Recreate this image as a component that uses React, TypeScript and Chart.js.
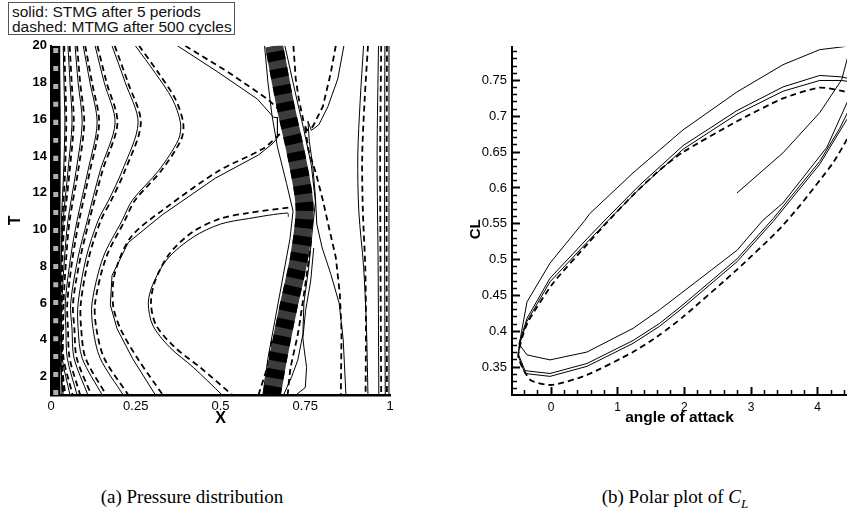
import React, { useEffect, useRef } from 'react';
import { Chart, registerables } from 'chart.js';

Chart.register(...registerables);

type P = [number, number];

// ---------------- (a) Pressure distribution : contour lines in the (X, T) plane ----------------
const xTicksA = [0, 0.25, 0.5, 0.75, 1];
const tTicksA = [2, 4, 6, 8, 10, 12, 14, 16, 18, 20];

// dense contour bundles (wall and shock)
const wallPath: P[] = [[0.014, 1], [0.014, 20]];
const shockPath: P[] = [[0.651, 1], [0.67, 3], [0.7, 5.75], [0.732, 8.5], [0.748, 11.2], [0.724, 14], [0.692, 16.7], [0.658, 20]];

// solid: STMG after 5 periods
const sA: P[] = [[0.024, 20], [0.027, 15.8], [0.026, 10.5], [0.024, 6], [0.026, 1]];
const sB: P[] = [[0.036, 20], [0.039, 17.5], [0.041, 15.8], [0.037, 13], [0.031, 10.5], [0.029, 6], [0.03, 3], [0.032, 1]];
const sC: P[] = [[0.05, 20], [0.056, 18], [0.062, 15.8], [0.05, 13.2], [0.036, 10.5], [0.03, 8.5], [0.027, 6], [0.027, 3], [0.036, 1]];
const sD: P[] = [[0.071, 20], [0.08, 18], [0.092, 15.8], [0.074, 13.2], [0.05, 10.5], [0.04, 8.5], [0.032, 6], [0.031, 4.6], [0.033, 3], [0.056, 1]];
const sE: P[] = [[0.095, 20], [0.115, 18], [0.136, 15.8], [0.109, 13.2], [0.077, 10.5], [0.058, 8.5], [0.042, 6], [0.044, 4.6], [0.048, 3], [0.077, 1]];
const sF: P[] = [[0.13, 20], [0.157, 18], [0.189, 15.8], [0.145, 13.2], [0.107, 10.5], [0.08, 8.5], [0.058, 6], [0.062, 4.6], [0.068, 3], [0.109, 1]];
const sG: P[] = [[0.18, 20], [0.219, 18], [0.257, 15.8], [0.21, 13.2], [0.17, 11.6], [0.139, 10.5], [0.104, 8.5], [0.08, 6], [0.08, 4.6], [0.092, 3], [0.151, 1]];
const sH: P[] = [[0.249, 20], [0.308, 18.5], [0.358, 17.1], [0.382, 15.8], [0.376, 14.9], [0.317, 13.2], [0.24, 11.6], [0.21, 10.5], [0.154, 8.5], [0.121, 6], [0.124, 4.6], [0.145, 3], [0.213, 1]];
const sI: P[] = [[0.373, 20], [0.49, 18.6], [0.609, 17.1], [0.657, 16.1], [0.668, 16.1], [0.668, 15.0], [0.655, 14.7], [0.612, 14.06], [0.485, 12.8], [0.328, 10.8], [0.228, 9.3], [0.18, 7.5], [0.175, 5.9], [0.195, 4.6], [0.24, 3.0], [0.308, 1.0]];
const sJ: P[] = [[0.7, 10.7], [0.698, 10.9], [0.583, 10.6], [0.5, 10.3], [0.42, 9.6], [0.343, 8.4], [0.3, 7.0], [0.287, 6.0], [0.3, 4.8], [0.35, 3.6], [0.42, 2.5], [0.505, 1.0]];
const sS1: P[] = [[0.864, 20], [0.846, 18.2], [0.817, 16.7], [0.79, 15.7], [0.768, 15.4], [0.758, 15.9], [0.762, 14.8], [0.772, 13.5], [0.78, 11.8], [0.784, 10.3], [0.8, 9.0], [0.825, 7.6], [0.85, 6.0], [0.862, 4.0], [0.87, 1.0]];
const sBandL: P[] = [[0.63, 20], [0.64, 18], [0.652, 16.2], [0.668, 14.5], [0.695, 12.5], [0.714, 11.0], [0.705, 9.5], [0.685, 7.5], [0.66, 5.0], [0.64, 3.0], [0.625, 1.0]];
const sBandR: P[] = [[0.69, 20], [0.72, 17.5], [0.745, 15.5], [0.768, 13.5], [0.78, 11.5], [0.77, 9.8], [0.76, 7.9], [0.746, 6.0], [0.743, 4.3], [0.728, 2.9], [0.71, 2.0], [0.686, 1.0]];
const sLoop: P[] = [[0.722, 1.0], [0.75, 1.4], [0.754, 2.5], [0.746, 3.6], [0.743, 4.1], [0.751, 5.6], [0.766, 7.2], [0.775, 9.0]];
const sR1: P[] = [[0.922, 20], [0.912, 17], [0.905, 14], [0.908, 11], [0.922, 8], [0.93, 5], [0.935, 1]];
const sR2: P[] = [[0.966, 20], [0.962, 14], [0.965, 8], [0.967, 1]];
const sR3: P[] = [[0.985, 20], [0.984, 10], [0.986, 1]];
const sR4: P[] = [[0.997, 20], [0.997, 1]];

// dashed: MTMG after 500 cycles
const dB: P[] = [[0.039, 20], [0.043, 17.5], [0.045, 15.8], [0.041, 13], [0.034, 10.5], [0.032, 6], [0.033, 3], [0.036, 1]];
const dC: P[] = [[0.055, 20], [0.061, 18], [0.067, 15.8], [0.055, 13.2], [0.04, 10.5], [0.034, 8.5], [0.031, 6], [0.031, 3], [0.042, 1]];
const dD: P[] = [[0.077, 20], [0.086, 18], [0.098, 15.8], [0.08, 13.2], [0.055, 10.5], [0.045, 8.5], [0.037, 6], [0.036, 4.6], [0.037, 3], [0.064, 1]];
const dE: P[] = [[0.101, 20], [0.121, 18], [0.142, 15.8], [0.115, 13.2], [0.083, 10.5], [0.064, 8.5], [0.048, 6], [0.05, 4.6], [0.055, 3], [0.086, 1]];
const dF: P[] = [[0.137, 20], [0.164, 18], [0.196, 15.8], [0.152, 13.2], [0.113, 10.5], [0.087, 8.5], [0.065, 6], [0.069, 4.6], [0.076, 3], [0.119, 1]];
const dG: P[] = [[0.188, 20], [0.227, 18], [0.265, 15.8], [0.218, 13.2], [0.178, 11.6], [0.147, 10.5], [0.112, 8.5], [0.088, 6], [0.089, 4.6], [0.102, 3], [0.163, 1]];
const dH: P[] = [[0.26, 20], [0.318, 18.5], [0.367, 17.1], [0.39, 15.8], [0.384, 14.9], [0.325, 13.2], [0.248, 11.6], [0.218, 10.5], [0.163, 8.5], [0.13, 6], [0.134, 4.6], [0.157, 3], [0.228, 1]];
const dI1: P[] = [[0.396, 20], [0.52, 18.6], [0.639, 17.1], [0.668, 16.6]];
const dI2: P[] = [[0.675, 15.2], [0.625, 14.4], [0.495, 13.2], [0.34, 11.2], [0.236, 9.6], [0.188, 7.6], [0.183, 5.9], [0.205, 4.6], [0.255, 3.0], [0.33, 1.0]];
const dJ: P[] = [[0.7, 11.2], [0.58, 10.9], [0.5, 10.6], [0.42, 9.9], [0.35, 8.7], [0.307, 7.2], [0.295, 6.0], [0.31, 4.8], [0.365, 3.6], [0.44, 2.5], [0.535, 1.0]];
const dS1: P[] = [[0.84, 20], [0.825, 18.5], [0.802, 16.7], [0.772, 15.6], [0.755, 15.4], [0.748, 15.7], [0.76, 14.3], [0.781, 13.1], [0.802, 11.6], [0.82, 10.1], [0.84, 8.5], [0.852, 6.5], [0.857, 4.5], [0.855, 1.0]];
const dTopBand: P[] = [[0.715, 20], [0.722, 18.2], [0.731, 17.1], [0.746, 15.8]];
const dBandL: P[] = [[0.612, 1.0], [0.638, 2.5], [0.652, 4.0]];
const dBandR: P[] = [[0.698, 1.0], [0.707, 2.5], [0.728, 4.3], [0.743, 6.1], [0.757, 7.9], [0.768, 9.5]];
const dR1: P[] = [[0.935, 20], [0.925, 17], [0.918, 14], [0.92, 11], [0.927, 8], [0.929, 5], [0.928, 1]];
const dR2: P[] = [[0.974, 20], [0.971, 14], [0.972, 8], [0.974, 1]];
const dR3: P[] = [[0.991, 20], [0.99, 10], [0.991, 1]];

// smooth contour families and angular ones (kinks near the shock)
const smoothSolidA = [sA, sB, sC, sD, sE, sF, sG, sH, sJ, sR1, sR2, sR3, sR4];
const sharpSolidA = [sI, sS1, sBandL, sBandR, sLoop];
const smoothDashedA = [dB, dC, dD, dE, dF, dG, dH, dI2, dJ, dBandR, dR1, dR2, dR3];
const sharpDashedA = [dI1, dS1, dTopBand, dBandL];

// ---------------- (b) Polar plot of CL : CL versus angle of attack ----------------
const alphaTicks = [0, 1, 2, 3, 4];
const alphaMinorTicks = [-0.4, -0.2, 0.2, 0.4, 0.6, 0.8, 1.2, 1.4, 1.6, 1.8, 2.2, 2.4, 2.6, 2.8, 3.2, 3.4, 3.6, 3.8, 4.2, 4.4];
const clTicks = [0.35, 0.4, 0.45, 0.5, 0.55, 0.6, 0.65, 0.7, 0.75];
const clMinorTicks = [
  0.32, 0.33, 0.34, 0.36, 0.37, 0.38, 0.39, 0.41, 0.42, 0.43, 0.44, 0.46, 0.47, 0.48, 0.49,
  0.51, 0.52, 0.53, 0.54, 0.56, 0.57, 0.58, 0.59, 0.61, 0.62, 0.63, 0.64, 0.66, 0.67, 0.68, 0.69,
  0.71, 0.72, 0.73, 0.74, 0.76, 0.77, 0.78, 0.79,
];

const stmgTransient: P[] = [[2.79, 0.593], [3.48, 0.649], [4.03, 0.705], [4.36, 0.751], [4.5, 0.8]];
const stmgOuterUpper: P[] = [[4.38, 0.797], [4.03, 0.793], [3.48, 0.772], [2.79, 0.734], [1.98, 0.681], [1.23, 0.621], [0.58, 0.564], [0.51, 0.555], [-0.015, 0.495], [-0.36, 0.441], [-0.46, 0.39], [-0.48, 0.382]];
const stmgOuterLower: P[] = [[-0.36, 0.367], [-0.015, 0.36], [0.54, 0.371], [1.23, 0.404], [1.63, 0.43], [1.98, 0.455], [2.79, 0.513], [3.18, 0.555], [3.48, 0.579], [4.14, 0.657], [4.44, 0.719], [4.55, 0.745]];
const stmgInnerUpper1: P[] = [[4.5, 0.752], [4.36, 0.755], [4.03, 0.757], [3.48, 0.741], [2.79, 0.708], [1.98, 0.659], [1.33, 0.604], [0.84, 0.558], [0.54, 0.529], [-0.015, 0.474], [-0.36, 0.418], [-0.47, 0.385], [-0.49, 0.368]];
const stmgInnerLower1: P[] = [[-0.39, 0.345], [-0.015, 0.341], [0.54, 0.355], [1.23, 0.387], [1.63, 0.411], [1.98, 0.437], [2.79, 0.501], [3.33, 0.557], [4.03, 0.637], [4.33, 0.683], [4.5, 0.715]];
const stmgInnerUpper2: P[] = [[4.5, 0.748], [4.36, 0.75], [4.03, 0.75], [3.48, 0.735], [2.79, 0.703], [1.98, 0.654], [1.33, 0.599], [0.84, 0.553], [0.54, 0.524], [-0.015, 0.469], [-0.36, 0.414], [-0.47, 0.382], [-0.49, 0.365]];
const stmgInnerLower2: P[] = [[-0.39, 0.341], [-0.015, 0.337], [0.54, 0.351], [1.23, 0.383], [1.63, 0.407], [1.98, 0.433], [2.79, 0.497], [3.33, 0.553], [4.03, 0.633], [4.33, 0.679], [4.5, 0.705]];
const mtmgLoop: P[] = [[4.55, 0.73], [4.38, 0.735], [4.03, 0.74], [3.48, 0.725], [2.79, 0.693], [1.98, 0.65], [1.63, 0.625], [1.23, 0.59], [0.85, 0.553], [0.55, 0.522], [0.03, 0.467], [-0.34, 0.414], [-0.43, 0.392], [-0.49, 0.364], [-0.31, 0.332], [0.015, 0.325], [0.54, 0.339], [1.23, 0.371], [1.63, 0.395], [1.98, 0.42], [2.79, 0.486], [3.4, 0.54], [3.73, 0.575], [4.23, 0.635], [4.44, 0.668], [4.55, 0.69]];

const stmgPath: P[] = [...stmgTransient, ...stmgOuterUpper, ...stmgOuterLower, ...stmgInnerUpper1, ...stmgInnerLower1, ...stmgInnerUpper2, ...stmgInnerLower2];

const SANS = 'Liberation Sans, Arial, Helvetica, sans-serif';
const SERIF = 'Liberation Serif, Times New Roman, serif';

const line = (pts: P[], dashed: boolean, tension = 0) => ({
  data: pts.map(([x, y]) => ({ x, y })),
  showLine: true,
  pointRadius: 0,
  pointHoverRadius: 0,
  borderColor: '#000',
  borderWidth: dashed ? 1.8 : 1,
  borderDash: dashed ? [6, 4] : [],
  fill: false,
  tension,
});

const band = (pts: P[], color: string, width: number, dash: number[]) => ({
  data: pts.map(([x, y]) => ({ x, y })),
  showLine: true,
  pointRadius: 0,
  pointHoverRadius: 0,
  borderColor: color,
  borderWidth: width,
  borderDash: dash,
  borderCapStyle: 'butt',
  borderJoinStyle: 'round',
  fill: false,
  tension: 0.3,
});

const fixedTicks = (vals: number[]) => (scale: any) => {
  scale.ticks = vals.map((v) => ({ value: v }));
};

// inward tick marks: negative tick length, drawn by the scales themselves
const inwardGrid = (len: number, width: number) => ({
  display: true,
  drawOnChartArea: false,
  drawTicks: true,
  tickLength: -len,
  tickWidth: width,
  tickColor: '#000',
  color: '#000',
});

export default function App() {
  const leftRef = useRef<HTMLCanvasElement>(null);
  const rightRef = useRef<HTMLCanvasElement>(null);

  useEffect(() => {
    const leftDatasets: any[] = [
      band(wallPath, '#b0b0b0', 5, [5, 13]),
      band(wallPath, '#000', 9, []),
      band(shockPath, '#000', 18, [9, 8]),
      band(shockPath, '#3c3c3c', 18, []),
      ...smoothSolidA.map((p) => line(p, false, 0.3)),
      ...sharpSolidA.map((p) => line(p, false, 0)),
      ...smoothDashedA.map((p) => line(p, true, 0.3)),
      ...sharpDashedA.map((p) => line(p, true, 0)),
    ];

    const left = new Chart(leftRef.current as HTMLCanvasElement, {
      type: 'scatter',
      data: { datasets: leftDatasets },
      options: {
        animation: false,
        responsive: false,
        maintainAspectRatio: false,
        layout: { padding: { top: 4, right: 30, bottom: 0, left: 0 } },
        plugins: { legend: { display: false }, tooltip: { enabled: false } },
        scales: {
          x: {
            type: 'linear',
            min: 0,
            max: 1,
            afterBuildTicks: fixedTicks(xTicksA),
            afterFit: (s: any) => { s.height = 35; },
            grid: { display: false, drawTicks: false },
            border: { display: true, color: '#000', width: 2.5 },
            ticks: { color: '#000', padding: 4, maxRotation: 0, font: { family: SANS, size: 13 }, callback: (v: any) => String(v) },
            title: { display: true, text: 'X', color: '#000', padding: { top: 0, bottom: 2 }, font: { family: SANS, size: 16, weight: 'bold' } },
          },
          y: {
            type: 'linear',
            min: 1,
            max: 20,
            afterBuildTicks: fixedTicks(tTicksA),
            afterFit: (s: any) => { s.width = 51; },
            grid: { display: false, drawTicks: false },
            border: { display: true, color: '#000', width: 2 },
            ticks: { color: '#000', padding: 4, font: { family: SANS, size: 13, weight: 'bold' }, callback: (v: any) => String(v) },
            title: { display: true, text: 'T', color: '#000', padding: { top: 6, bottom: 0 }, font: { family: SANS, size: 16, weight: 'bold' } },
          },
        },
      } as any,
    });

    const right = new Chart(rightRef.current as HTMLCanvasElement, {
      type: 'scatter',
      data: {
        datasets: [
          line(mtmgLoop, true, 0.2),
          line(stmgPath, false, 0),
        ] as any[],
      },
      options: {
        animation: false,
        responsive: false,
        maintainAspectRatio: false,
        layout: { padding: { top: 4, right: 0, bottom: 0, left: 0 } },
        plugins: { legend: { display: false }, tooltip: { enabled: false } },
        scales: {
          xm: {
            type: 'linear',
            axis: 'x',
            position: 'bottom',
            weight: 0,
            min: -0.585,
            max: 4.44,
            afterBuildTicks: fixedTicks(alphaMinorTicks),
            afterFit: (s: any) => { s.height = 0; },
            grid: inwardGrid(5, 1.5),
            border: { display: false },
            ticks: { display: false },
          },
          x: {
            type: 'linear',
            position: 'bottom',
            weight: 1,
            min: -0.585,
            max: 4.44,
            afterBuildTicks: fixedTicks(alphaTicks),
            afterFit: (s: any) => { s.height = 35; },
            grid: inwardGrid(8, 2),
            border: { display: true, color: '#000', width: 2 },
            ticks: { color: '#000', padding: 13, maxRotation: 0, font: { family: SANS, size: 12 }, callback: (v: any) => String(v) },
            title: { display: true, text: 'angle of attack', color: '#000', padding: { top: 0, bottom: 3 }, font: { family: SANS, size: 15.5, weight: 'bold' } },
          },
          ym: {
            type: 'linear',
            axis: 'y',
            position: 'left',
            weight: 0,
            min: 0.311,
            max: 0.797,
            afterBuildTicks: fixedTicks(clMinorTicks),
            afterFit: (s: any) => { s.width = 0; },
            grid: inwardGrid(5, 1.5),
            border: { display: false },
            ticks: { display: false },
          },
          y: {
            type: 'linear',
            position: 'left',
            weight: 1,
            min: 0.311,
            max: 0.797,
            afterBuildTicks: fixedTicks(clTicks),
            afterFit: (s: any) => { s.width = 57; },
            grid: inwardGrid(8, 2),
            border: { display: true, color: '#000', width: 2 },
            ticks: { color: '#000', padding: 13, font: { family: SANS, size: 13 }, callback: (v: any) => String(v) },
            title: { display: true, text: 'CL    ', color: '#000', padding: { top: 12, bottom: 0 }, font: { family: SANS, size: 15, weight: 'bold' } },
          },
        },
      } as any,
    });

    return () => {
      left.destroy();
      right.destroy();
    };
  }, []);

  return (
    <div style={{ position: 'absolute', left: 0, top: 0, width: 847, height: 529, overflow: 'hidden', background: '#fff' }}>
      <div
        style={{
          position: 'absolute', left: 8, top: 2, width: 227, height: 33,
          border: '1px solid #555', fontFamily: SANS, fontSize: 15.5, lineHeight: '15px',
          paddingLeft: 3, paddingTop: 1, boxSizing: 'border-box', whiteSpace: 'nowrap', color: '#111', background: '#fff', zIndex: 2,
        }}
      >
        <div>solid: STMG after 5 periods</div>
        <div>dashed: MTMG after 500 cycles</div>
      </div>
      <canvas ref={leftRef} width={420} height={396} style={{ position: 'absolute', left: 0, top: 34, width: 420, height: 396 }} />
      <canvas ref={rightRef} width={392} height={404} style={{ position: 'absolute', left: 455, top: 26, width: 392, height: 404 }} />
      <div style={{ position: 'absolute', left: 42, width: 300, top: 486, textAlign: 'center', fontFamily: SERIF, fontSize: 19 }}>
        (a) Pressure distribution
      </div>
      <div style={{ position: 'absolute', left: 525, width: 300, top: 486, textAlign: 'center', fontFamily: SERIF, fontSize: 19 }}>
        (b) Polar plot of <i>C</i><sub style={{ fontStyle: 'italic', fontSize: 13 }}>L</sub>
      </div>
    </div>
  );
}
